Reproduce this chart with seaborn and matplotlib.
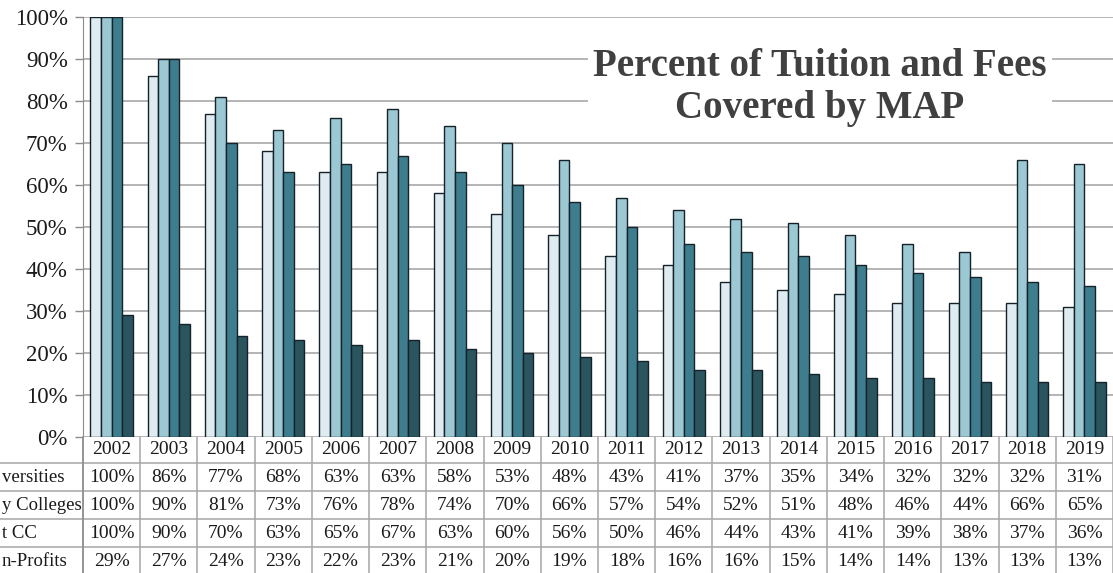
#=========================================================================
# MAP 등록금 커버율 막대 그래프 + 데이터 테이블
#=========================================================================

import pandas as pd
import matplotlib.pyplot as plt
import seaborn as sns
import numpy as np

#-----------------------------------------------------------------------
# 데이터
#-----------------------------------------------------------------------
years = ['2002', '2003', '2004', '2005', '2006', '2007', '2008', '2009', '2010',
         '2011', '2012', '2013', '2014', '2015', '2016', '2017', '2018', '2019']
series_names = ['Public Universities', 'Community Colleges', 'Highest Cost CC', 'Private Non-Profits']
# 원본 그림에서 왼쪽이 잘려서 보이는 행 이름
row_labels = ['versities', 'y Colleges', 't CC', 'n-Profits']
univ = [100, 86, 77, 68, 63, 63, 58, 53, 48, 43, 41, 37, 35, 34, 32, 32, 32, 31]
comm_college = [100, 90, 81, 73, 76, 78, 74, 70, 66, 57, 54, 52, 51, 48, 46, 44, 66, 65]
high_cc = [100, 90, 70, 63, 65, 67, 63, 60, 56, 50, 46, 44, 43, 41, 39, 38, 37, 36]
non_profit = [29, 27, 24, 23, 22, 23, 21, 20, 19, 18, 16, 16, 15, 14, 14, 13, 13, 13]
bar_colors = ['#dbeef4', '#92cddc', '#31849b', '#215967']

values = [univ, comm_college, high_cc, non_profit]
df = pd.DataFrame({
    'year': years * 4,
    'series': np.repeat(series_names, len(years)),
    'pct': np.concatenate(values),
})

#-----------------------------------------------------------------------
# 그래프
#-----------------------------------------------------------------------
sns.set_style('white')
plt.rcParams['font.family'] = ['Liberation Serif', 'DejaVu Serif']

W, H = 1113, 573
fig = plt.figure(figsize=(W / 100, H / 100), dpi=100)
ax = fig.add_axes([83 / W, (H - 437) / H, 1030 / W, 420 / H])

sns.barplot(data=df, x='year', y='pct', hue='series', palette=bar_colors,
            width=0.74, edgecolor='#16222a', linewidth=1.0, ax=ax, legend=False,
            zorder=3)

ax.set_xlim(-0.5, len(years) - 0.5)
ax.set_ylim(0, 100)
ax.set_yticks(range(0, 101, 10))
ax.set_yticklabels([f'{t}%' for t in range(0, 101, 10)], fontsize=16.5, color='#1a1a1a')
ax.set_xticks([])
ax.set_xlabel('')
ax.set_ylabel('')
ax.yaxis.grid(True, color='#a0a0a0', linewidth=1.1, zorder=0)
ax.tick_params(axis='y', length=6, width=1, color='#8c8c8c', pad=5, left=True)
for side in ['top', 'right', 'bottom']:
    ax.spines[side].set_visible(False)
ax.spines['left'].set_color('#8c8c8c')

# 제목 (흰 배경으로 격자선 가림)
ax.text(0.7155, 0.832, 'Percent of Tuition and Fees\nCovered by MAP',
        transform=ax.transAxes, ha='center', va='center', fontsize=28,
        fontweight='bold', color='#404040', linespacing=1.2, zorder=5,
        bbox=dict(facecolor='white', edgecolor='none', pad=4))

#-----------------------------------------------------------------------
# 데이터 테이블
#-----------------------------------------------------------------------
row_edges = [437, 463, 491, 519, 547, 575]   # 픽셀 기준 행 경계
to_ax = lambda py: (437 - py) / 420
trans = ax.get_xaxis_transform()
line_kw = dict(color='#a6a6a6', linewidth=1.1, clip_on=False)

# 가로선
for py in row_edges[1:]:
    ax.plot([-83 / 1030, 1], [to_ax(py)] * 2, transform=ax.transAxes, **line_kw)
# 세로선
for i in range(len(years) + 1):
    ax.plot([i - 0.5, i - 0.5], [0, to_ax(575)], transform=trans, **line_kw)
ax.plot([0, 0], [0, to_ax(575)], transform=ax.transAxes, color='#8c8c8c',
        linewidth=1.1, clip_on=False)

# 년도 헤더
for i, y in enumerate(years):
    ax.text(i, to_ax(450), y, transform=trans, ha='center', va='center',
            fontsize=14, color='#1a1a1a', clip_on=False)

# 값
for r, vals in enumerate(values):
    yc = to_ax((row_edges[r + 1] + row_edges[r + 2]) / 2)
    for i, v in enumerate(vals):
        ax.text(i, yc, f'{v}%', transform=trans, ha='center', va='center',
                fontsize=14, color='#1a1a1a', clip_on=False)
    # 행 이름
    ax.text(-81 / 1030, yc, row_labels[r], transform=ax.transAxes,
            ha='left', va='center', fontsize=13.5, color='#1a1a1a', clip_on=False)

plt.savefig('out.png', dpi=100)
